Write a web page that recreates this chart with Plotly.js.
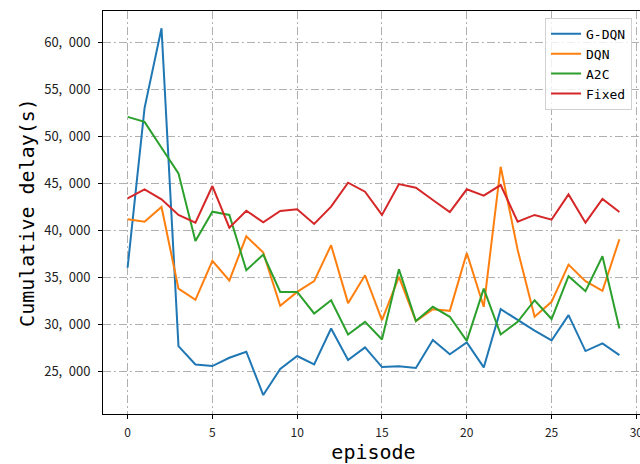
<!DOCTYPE html>
<html>
<head>
<meta charset="utf-8">
<script src="https://cdn.plot.ly/plotly-3.0.1.min.js"></script>
<style>
html, body { margin: 0; padding: 0; overflow: hidden; background: #fff; }
#chart { width: 645px; height: 464px; }
</style>
</head>
<body>
<div id="chart"></div>
<script>
const episodes = [0,1,2,3,4,5,6,7,8,9,10,11,12,13,14,15,16,17,18,19,20,21,22,23,24,25,26,27,28,29];

const gdqn = [36000,53000,61500,27660,25700,25530,26420,27060,22450,25220,26600,25700,29530,26170,27520,25430,25500,25320,28300,26780,28050,25390,31590,30450,29300,28260,30960,27130,27940,26700];
const dqn = [41160,40900,42470,33780,32580,36730,34640,39350,37610,31940,33430,34570,38400,32230,35200,30420,35030,30320,31590,31410,37570,31840,46750,37900,30780,32370,36330,34570,33540,39030];
const a2c = [52060,51530,48770,46050,38850,41970,41620,35740,37400,33430,33430,31130,32540,28900,30240,28360,35830,30320,31840,30780,28220,33780,28900,30240,32540,30540,35100,33500,37220,29530];
const fixed = [43390,44350,43280,41620,40800,44700,40270,42070,40840,42040,42220,40660,42500,45050,44090,41620,44910,44520,43210,41930,44350,43670,44800,40900,41620,41120,43810,40800,43320,41930];

const seriesNames = ['G-DQN','DQN','A2C','Fixed'];
const seriesColors = ['#1f77b4','#ff7f0e','#2ca02c','#d62728'];
const seriesData = [gdqn, dqn, a2c, fixed];

const xTicks = [0,5,10,15,20,25,30];
const yTicks = [25000,30000,35000,40000,45000,50000,55000,60000];
const yTickText = ['25,\u2002000','30,\u2002000','35,\u2002000','40,\u2002000','45,\u2002000','50,\u2002000','55,\u2002000','60,\u2002000'];

const traces = seriesData.map((vals, i) => ({
  x: episodes,
  y: vals,
  type: 'scatter',
  mode: 'lines',
  name: seriesNames[i],
  line: { color: seriesColors[i], width: 2 }
}));

const gridDash = '8px,3px,2px,3px';
const layout = {
  width: 645,
  height: 464,
  margin: { l: 103, r: 1, t: 11, b: 50 },
  paper_bgcolor: '#fff',
  plot_bgcolor: '#fff',
  showlegend: true,
  legend: {
    x: 0.817, y: 0.983, xanchor: 'left', yanchor: 'top',
    bgcolor: 'rgba(255,255,255,0.8)',
    bordercolor: '#d0d0d0', borderwidth: 1,
    font: { family: 'DejaVu Sans Mono, monospace', size: 13, color: '#000' },
    tracegroupgap: 0
  },
  xaxis: {
    range: [-1.45, 30.45],
    tickvals: xTicks,
    ticktext: xTicks.map(String),
    ticks: 'outside', ticklen: 4, tickcolor: '#000', tickwidth: 1,
    ticklabelstandoff: 4,
    showline: true, linecolor: '#000', linewidth: 1, mirror: true,
    showgrid: true, gridcolor: '#b0b0b0', gridwidth: 1, griddash: gridDash,
    zeroline: false,
    ticklabeloverflow: 'allow',
    tickfont: { family: 'Noto Sans CJK SC, sans-serif', size: 12, color: '#222' },
    title: { text: 'episode', standoff: 9,
      font: { family: 'DejaVu Sans Mono, monospace', size: 20, color: '#000' } }
  },
  yaxis: {
    range: [20430, 63330],
    tickvals: yTicks,
    ticktext: yTickText,
    ticks: 'outside', ticklen: 4, tickcolor: '#000', tickwidth: 1,
    ticklabelstandoff: 5,
    showline: true, linecolor: '#000', linewidth: 1, mirror: true,
    showgrid: true, gridcolor: '#b0b0b0', gridwidth: 1, griddash: gridDash,
    zeroline: false,
    tickfont: { family: 'Noto Sans CJK SC, sans-serif', size: 13, color: '#222' },
    title: { text: 'Cumulative delay(s)', standoff: 4,
      font: { family: 'DejaVu Sans Mono, monospace', size: 20, color: '#000' } }
  }
};

Plotly.newPlot('chart', traces, layout, { displayModeBar: false, staticPlot: true });
</script>
</body>
</html>
